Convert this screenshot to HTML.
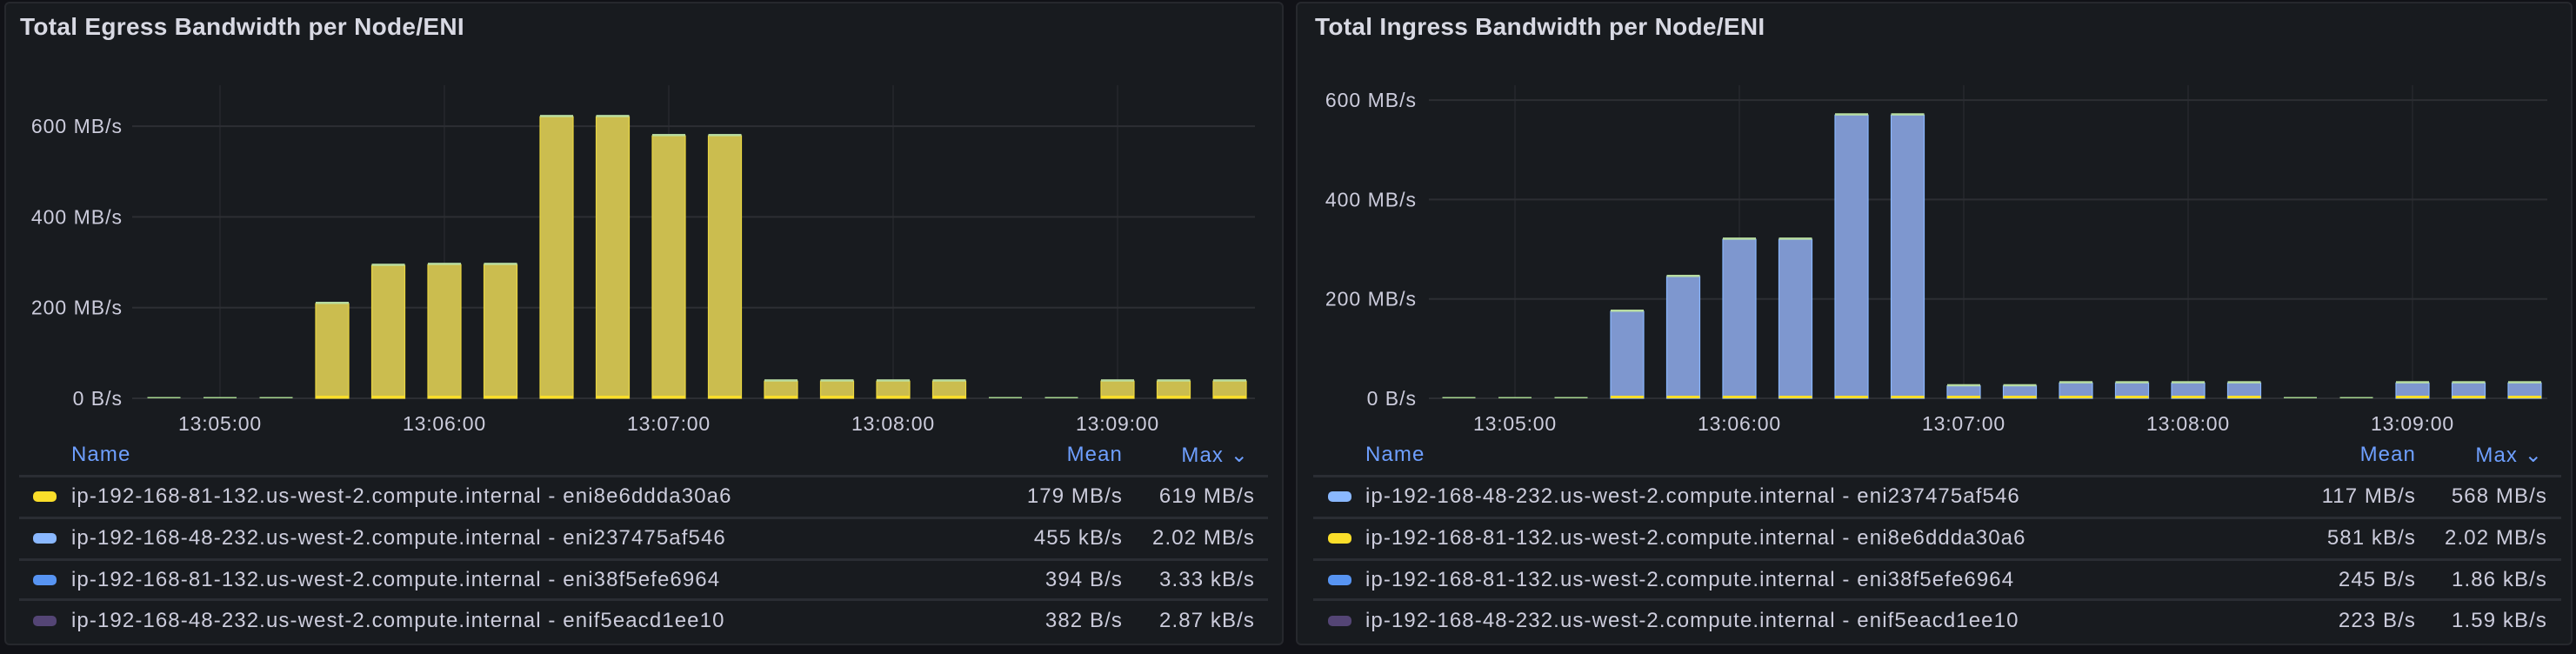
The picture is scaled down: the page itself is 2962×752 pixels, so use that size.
<!DOCTYPE html>
<html><head><meta charset="utf-8">
<style>
html,body{margin:0;padding:0;background:#111217;}
body{width:2962px;height:752px;position:relative;overflow:hidden;font-family:"Liberation Sans",sans-serif;}
.panel{position:absolute;top:2px;height:740px;background:#181b1f;border:2px solid #26282d;border-radius:6px;box-sizing:border-box;}
.title{position:absolute;top:15px;font-size:28px;font-weight:bold;color:#d8d9e3;letter-spacing:0.3px;}
svg{position:absolute;left:0;top:0;}
.lg{position:absolute;font-size:24px;color:#ccccdc;white-space:nowrap;letter-spacing:1.1px;}
.hd{color:#6e9fff;font-size:24px;}
.div{position:absolute;height:3px;background:#2a2d33;}
.sw{position:absolute;width:27px;height:12px;border-radius:5px;}
</style></head>
<body>
<div class="panel" style="left:5px;width:1471px;"></div>
<div class="panel" style="left:1490px;width:1468px;"></div>
<div class="title" style="left:23px;">Total Egress Bandwidth per Node/ENI</div>
<div class="title" style="left:1512px;">Total Ingress Bandwidth per Node/ENI</div>
<svg id="chart" width="2962" height="752"></svg>
<div id="legends"></div>
<script>
// bar timestamps (seconds after 13:00:00), every 15 s
const barTimes = [285,300,315,330,345,360,375,390,405,420,435,450,465,480,495,510,525,540,555,570];
const xTickLabels = ["13:05:00","13:06:00","13:07:00","13:08:00","13:09:00"];
const xTickTimes = [300,360,420,480,540];
const yTicks = [0,200,400,600];
const yTickLabels = ["0 B/s","200 MB/s","400 MB/s","600 MB/s"];
// MB/s
const egressMain = [0,0,0,209,293,295,295,621,621,579,579,38,38,38,38,0,0,38,38,38];
const ingressMain = [0,0,0,175,245,320,320,570,570,25,25,31,31,31,31,0,0,31,31,31];
const egressNames = ["ip-192-168-81-132.us-west-2.compute.internal - eni8e6ddda30a6","ip-192-168-48-232.us-west-2.compute.internal - eni237475af546","ip-192-168-81-132.us-west-2.compute.internal - eni38f5efe6964","ip-192-168-48-232.us-west-2.compute.internal - enif5eacd1ee10"];
const egressMean = ["179 MB/s","455 kB/s","394 B/s","382 B/s"];
const egressMax = ["619 MB/s","2.02 MB/s","3.33 kB/s","2.87 kB/s"];
const ingressNames = ["ip-192-168-48-232.us-west-2.compute.internal - eni237475af546","ip-192-168-81-132.us-west-2.compute.internal - eni8e6ddda30a6","ip-192-168-81-132.us-west-2.compute.internal - eni38f5efe6964","ip-192-168-48-232.us-west-2.compute.internal - enif5eacd1ee10"];
const ingressMean = ["117 MB/s","581 kB/s","245 B/s","223 B/s"];
const ingressMax = ["568 MB/s","2.02 MB/s","1.86 kB/s","1.59 kB/s"];
const egressColors = ["#FADE2A","#8AB8FF","#5794F2","#544575"];
const ingressColors = ["#8AB8FF","#FADE2A","#5794F2","#544575"];

const NS="http://www.w3.org/2000/svg";
const svg=document.getElementById('chart');
function mk(tag,attrs,parent){const e=document.createElementNS(NS,tag);for(const k in attrs)e.setAttribute(k,attrs[k]);(parent||svg).appendChild(e);return e;}

function drawChart(cfg){
  const g=mk('g',{});
  
  
  const x=t=>cfg.x0+(t-300)*cfg.pxPerSec;
  const y=v=>cfg.y0-v*cfg.pxPerMB;
  xTickTimes.forEach((t,i)=>{
    const l=mk('line',{x1:x(t),x2:x(t),y1:98,y2:cfg.y0,stroke:'#26282d','stroke-width':1.5},g);
    
    
    const tx=mk('text',{x:x(t),y:495,'text-anchor':'middle',fill:'#ccccdc','font-size':23,'letter-spacing':0.8},g);
    tx.textContent=xTickLabels[i];
    
    
  });
  yTicks.forEach((v,i)=>{
    const l=mk('line',{x1:cfg.gx1,x2:cfg.gx2,y1:y(v),y2:y(v),stroke:'#2c2e33','stroke-width':2},g);
    
    
    const tx=mk('text',{x:cfg.lx,y:y(v)+8,'text-anchor':'end',fill:'#ccccdc','font-size':23,'letter-spacing':1},g);
    tx.textContent=yTickLabels[i];
    
    
  });
  const bw=38;
  barTimes.forEach((t,i)=>{
    const v=cfg.values[i];
    const cx=x(t);
    const top=y(v);
    if(v>0){
      const r=mk('rect',{x:cx-bw/2,y:top,width:bw,height:cfg.y0-top,fill:cfg.fill,stroke:cfg.stroke,'stroke-width':1.2},g);
      
      
      mk('rect',{x:cx-bw/2,y:top-2,width:bw,height:2.5,fill:'#b8dca0'},g);
      mk('rect',{x:cx-bw/2,y:cfg.y0-3,width:bw,height:3,fill:cfg.base},g);
    } else {
      const r=mk('rect',{x:cx-bw/2,y:cfg.y0-1.5,width:bw,height:1.5,fill:'#a6d68f'},g);
      
      
    }
  });
}
drawChart({name:'egress',values:egressMain,x0:253,pxPerSec:258/60,y0:458,pxPerMB:104.3/200,gx1:152,gx2:1443,lx:141,fill:'#cbbd4f',stroke:'#e9d640',base:'#FADE2A'});
drawChart({name:'ingress',values:ingressMain,x0:1742,pxPerSec:258/60,y0:458,pxPerMB:114.3/200,gx1:1643,gx2:2929,lx:1629,fill:'#7e97cf',stroke:'#8AB8FF',base:'#FADE2A'});

const L=document.getElementById('legends');
function legend(cfg){
  function add(cls,style,text,name,inter){const d=document.createElement('div');d.className=cls;d.setAttribute('style',style);if(text)d.textContent=text;
    
    
    L.appendChild(d);return d;}
  add('lg hd','left:'+cfg.nameX+'px;top:509px;','Name','legend-name-header','true');
  add('lg hd','left:'+(cfg.meanR-100)+'px;width:100px;text-align:right;top:509px;','Mean','legend-mean-header','true');
  add('lg hd','left:'+(cfg.maxR-100)+'px;width:100px;text-align:right;top:509px;','Max \u2304','legend-max-header','true');
  add('div','left:'+cfg.d1+'px;width:'+(cfg.d2-cfg.d1)+'px;top:546px;','','legend-header-divider','false');
  const rowsC=[571,619,667,714];
  [595,643,689].forEach(yy=>add('div','left:'+cfg.d1+'px;width:'+(cfg.d2-cfg.d1)+'px;top:'+(yy-1)+'px;','','legend-row-divider','false'));
  cfg.names.forEach((n,i)=>{
    add('sw','left:'+cfg.swX+'px;top:'+(rowsC[i]-6)+'px;background:'+cfg.colors[i]+';','','legend-swatch','false');
    add('lg','left:'+cfg.nameX+'px;top:'+(rowsC[i]-14)+'px;',n,'legend-entry-name','true');
    add('lg','left:'+(cfg.meanR-200)+'px;width:200px;text-align:right;top:'+(rowsC[i]-14)+'px;',cfg.mean[i],'legend-entry-mean','false');
    add('lg','left:'+(cfg.valR-200)+'px;width:200px;text-align:right;top:'+(rowsC[i]-14)+'px;',cfg.max[i],'legend-entry-max','false');
  });
}
legend({names:egressNames,mean:egressMean,max:egressMax,colors:egressColors,nameX:82,swX:38,meanR:1291,maxR:1436,valR:1443,d1:22,d2:1458});
legend({names:ingressNames,mean:ingressMean,max:ingressMax,colors:ingressColors,nameX:1570,swX:1527,meanR:2778,maxR:2924,valR:2929,d1:1510,d2:2945});
</script>
</body></html>
